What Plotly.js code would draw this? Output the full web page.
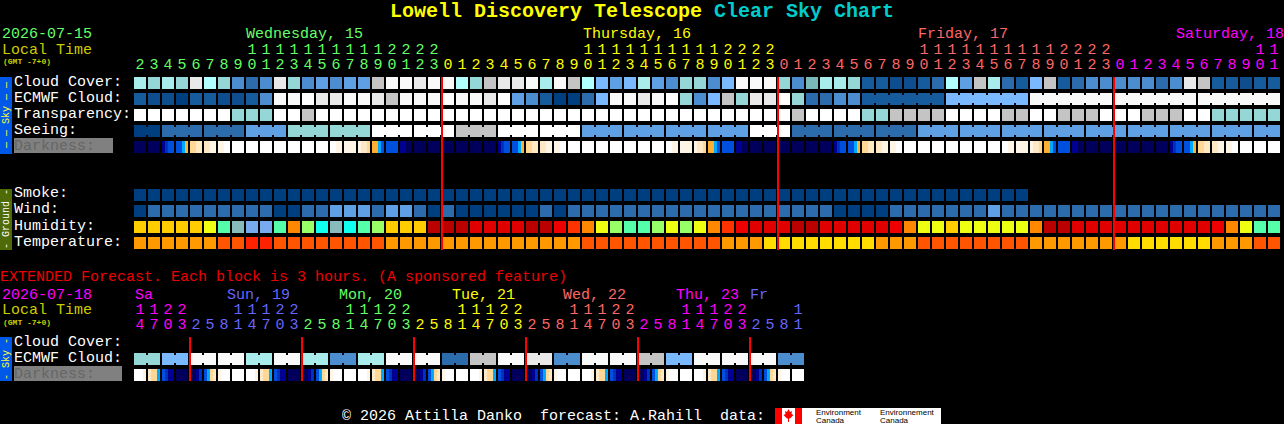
<!DOCTYPE html>
<html>
<head>
<meta charset="utf-8">
<script src="https://cdn.plot.ly/plotly-3.0.1.min.js"></script>
<style>html,body{margin:0;padding:0;background:#000;overflow:hidden}</style>
</head>
<body>
<div id="chart" style="width:1284px;height:424px"></div>
<script>
// ---------- palettes ----------
const skyPalette = ['#003f7f','#0e4e8e','#165c9c','#2c6cac','#4c8dd0','#5f9fe3','#7ab9ff','#7ab9b9','#95d6d6','#a8ecec','#b2ffff','#c4c4c4','#e9e9e9','#f9f9f9','#ffffff'];
const humidityPalette = ['#bb0000','#e00000','#ee0000','#ff3300','#ff8800','#ffcc00','#eeff11','#99ff66','#55ffaa','#11ffee','#88bbbb','#77aaee'];
const tempPalette = ['#ff2200','#ff5500','#ff9900','#ffdd00'];
const darkPalette = ['#00005c','#000090','#0030c0','#0050e0','#00a8ff','#ffb030','#ffd898','#ffe8c4','#fff5e6','#ffffff'];

// ---------- hourly forecast ----------
const hours = [2,3,4,5,6,7,8,9,10,11,12,13,14,15,16,17,18,19,20,21,22,23,
  0,1,2,3,4,5,6,7,8,9,10,11,12,13,14,15,16,17,18,19,20,21,22,23,
  0,1,2,3,4,5,6,7,8,9,10,11,12,13,14,15,16,17,18,19,20,21,22,23,
  0,1,2,3,4,5,6,7,8,9,10,11];
const hourDayColor = ['#66ff66','#ffff00','#ff6666','#ff00ff'];
const hourDaySpans = [22,24,24,12];

const cloudCover = [9,8,9,8,12,10,8,4,3,4,12,8,4,5,4,5,5,11,13,13,12,13,
  13,10,8,11,12,12,13,9,13,11,10,6,5,6,9,5,4,8,8,4,6,13,13,13,
  8,4,7,9,9,8,2,2,1,1,2,3,10,5,11,9,3,2,6,11,2,3,4,4,
  4,4,4,3,4,12,11,2,2,1,2,2];
const ecmwfCloud = [2,1,1,0,2,2,1,1,2,4,13,13,14,12,12,13,13,12,11,13,13,13,
  14,13,13,12,14,5,4,2,0,0,3,6,13,13,12,13,14,8,4,6,11,8,12,12,
  14,8,3,3,4,4,2,2,2,2,2,2,6,6,6,6,6,6,13,13,13,13,13,13,
  13,13,13,13,13,13,13,13,13,13,13,13];
const ecmwfRuns = [[52,57],[58,63],[64,69],[70,75],[76,81]];
const transparency = [14,14,14,14,14,14,14,8,8,8,14,14,11,14,14,14,14,14,14,14,14,14,
  14,14,14,14,14,14,14,14,14,14,14,14,14,14,14,14,14,14,14,14,14,14,14,14,
  14,11,14,14,14,14,8,8,11,11,11,11,14,14,14,14,11,11,14,14,11,11,11,14,
  14,14,11,11,11,14,14,8,8,8,8,8];
const seeing = [0,0,3,3,3,3,3,3,5,5,5,8,8,8,8,8,8,14,14,14,14,14,
  14,11,11,11,14,14,14,14,14,14,5,5,5,5,5,5,5,5,5,5,5,5,14,14,
  14,3,3,3,3,3,3,3,3,3,5,5,5,5,5,5,5,5,5,5,5,5,5,5,
  5,5,5,5,5,5,5,5,5,5,5,5];
const seeingRuns = [[0,1],[2,4],[5,7],[8,10],[11,13],[14,16],[17,19],[20,22],[23,25],[26,28],[29,31],[32,34],[35,37],[38,40],[41,43],[44,46],[47,49],[50,52],[53,55],[56,58],[59,61],[62,64],[65,67],[68,70],[71,73],[74,76],[77,79],[80,81]];
const darkness = ['0000','0000','1233','3345','6677','7788','8899','9999','9999','9999','9999','9999','9999','9999','9988','8888','8776','5543','3333','1100','0000','0000',
  '0000','0000','0000','0000','1233','3345','6677','7788','8899','9999','9999','9999','9999','9999','9999','9999','9988','8888','8776','5543','3333','1100','0000','0000',
  '0000','0000','0000','0000','1233','3345','6677','7788','8899','9999','9999','9999','9999','9999','9999','9999','9988','8888','8776','5543','3333','1100','0000','0000',
  '0000','0000','0000','0000','1233','3345','6677','7788','8899','9999','9999','9999'];
const smoke = [0,0,0,0,0,0,0,0,0,0,0,0,0,0,0,0,0,0,0,0,0,0,
  0,0,0,0,0,0,0,0,0,0,0,0,0,0,0,0,0,0,0,0,0,0,0,0,
  0,0,0,0,0,0,0,0,0,0,0,0,0,0,0,0,0,0,null,null,null,null,null,null,
  null,null,null,null,null,null,null,null,null,null,null,null];
const wind = [0,3,3,3,3,3,3,3,3,3,0,0,3,3,5,5,5,3,5,5,3,0,
  3,0,0,0,0,0,0,3,0,3,3,3,3,3,3,3,3,3,3,3,3,3,3,3,
  3,3,3,3,0,0,0,0,3,3,3,3,3,3,3,5,3,3,3,3,3,3,3,3,
  3,3,3,3,3,3,3,3,3,3,3,3];
const humidity = [5,5,5,5,5,6,8,10,11,11,8,4,7,9,10,9,8,7,5,5,5,0,
  0,0,1,1,1,1,0,0,2,3,4,6,7,8,8,7,6,7,6,4,3,2,1,1,
  1,0,0,1,1,1,1,1,2,4,6,6,5,6,6,6,6,6,4,0,0,1,1,1,
  1,1,1,1,1,1,1,2,4,6,8,8];
const temperature = [2,2,2,2,2,2,1,1,0,0,1,1,1,1,1,1,1,1,2,2,2,2,
  2,2,2,2,2,2,2,2,2,2,1,1,1,1,1,1,1,1,1,1,2,2,2,3,
  3,3,3,3,3,3,3,2,2,2,1,1,1,1,1,1,1,1,2,2,2,2,2,2,
  2,3,3,3,3,3,3,2,2,2,1,1];

// ---------- extended forecast (3 hour blocks) ----------
const extHours = [14,17,20,23, 2,5,8,11,14,17,20,23, 2,5,8,11,14,17,20,23, 2,5,8,11,14,17,20,23, 2,5,8,11,14,17,20,23, 2,5,8,11,14,17,20,23, 2,5,8,11];
const extDayColor = ['#ff00ff','#6666ff','#66ff66','#ffff00','#ff6666','#ff00ff','#6666ff'];
const extDaySpans = [4,8,8,8,8,8,4];
const extEcmwf = [8,8,6,6,13,13,13,13,9,9,13,13,9,9,4,4,9,9,13,13,13,13,3,3,11,11,13,13,12,12,4,4,13,13,13,13,11,11,6,6,13,13,13,13,13,13,4,4];
const extRuns = [[0,1],[2,3],[4,5],[6,7],[8,9],[10,11],[12,13],[14,15],[16,17],[18,19],[20,21],[22,23],[24,25],[26,27],[28,29],[30,31],[32,33],[34,35],[36,37],[38,39],[40,41],[42,43],[44,45],[46,47]];
const extDarkness = ['9998','7664','3211','0000','0012','3467','8999','9999',
  '9998','7664','3211','0000','0012','3467','8999','9999',
  '9998','7664','3211','0000','0012','3467','8999','9999',
  '9998','7664','3211','0000','0012','3467','8999','9999',
  '9998','7664','3211','0000','0012','3467','8999','9999',
  '9998','7664','3211','0000','0012','3467','8999','9999'];

// ---------- labels ----------
const dayLabels = [['Wednesday, 15',245,'#66ff66'],['Thursday, 16',582,'#ffff00'],['Friday, 17',917,'#ff6666'],['Saturday, 18',1175,'#ff00ff']];
const extDayLabels = [['Sa',134,'#ff00ff'],['Sun, 19',226,'#6666ff'],['Mon, 20',338,'#66ff66'],['Tue, 21',451,'#ffff00'],['Wed, 22',562,'#ff6666'],['Thu, 23',675,'#ff00ff'],['Fr',749,'#6666ff']];
const rowLabels = [['Cloud Cover:',82],['ECMWF Cloud:',98],['Transparency:',114],['Seeing:',130],['Smoke:',194],['Wind:',210],['Humidity:',226],['Temperature:',242],['Cloud Cover:',342],['ECMWF Cloud:',358]];
const midnightLines = [442,778,1114];
const extMidnightLines = [190,302,414,526,638,750];

// ---------- pixel <-> axis helpers ----------
const W = 1284, H = 424;
const xOf = p => (p - 140) / 14;
const yOf = p => (p - 83) / 16;
const mono = 'Liberation Mono, DejaVu Sans Mono, monospace';
const palScale = pal => pal.map((c, k) => [k / (pal.length - 1), c]);
const idx = a => a.map((_, i) => i);

const traces = [];
function blockRow(z, yPx, pal) {
  traces.push({type:'heatmap', x:idx(z), y:[yOf(yPx)], z:[z], zmin:0, zmax:pal.length-1,
    colorscale:palScale(pal), showscale:false, xgap:2, ygap:4, hoverinfo:'skip'});
}
function connectors(z, runs, yPx, pal) {
  const c = z.slice(0, -1).map(() => null);
  runs.forEach(([a, b]) => { for (let i = a; i < b; i++) c[i] = z[i]; });
  traces.push({type:'heatmap', x:c.map((_, i) => i + 0.5), y:[yOf(yPx)], z:[c], zmin:0, zmax:pal.length-1,
    colorscale:palScale(pal), showscale:false, xgap:12, ygap:8, hoverinfo:'skip'});
}
function darkRow(cells, yPx) {
  const edges = [], z = [];
  cells.forEach((s, i) => {
    const base = i - 6 / 14;
    s.split('').forEach((d, k) => { edges.push(base + k * 3 / 14); z.push(+d); });
    edges.push(base + 12 / 14); z.push(null);
  });
  edges.push(cells.length - 6 / 14);
  traces.push({type:'heatmap', x:edges, y:[yOf(yPx - 6), yOf(yPx + 6)], z:[z], zmin:0, zmax:darkPalette.length-1,
    colorscale:palScale(darkPalette), showscale:false, hoverinfo:'skip'});
}
function hourText(hrs, spans, cols, tensY, unitsY) {
  const colour = [];
  spans.forEach((n, k) => { for (let j = 0; j < n; j++) colour.push(cols[k]); });
  traces.push({type:'scatter', mode:'text', x:idx(hrs), y:hrs.map(() => yOf(unitsY)),
    text:hrs.map(h => String(h % 10)), textfont:{family:mono, size:15, color:colour},
    textposition:'middle center', cliponaxis:false, hoverinfo:'skip'});
  const ti = idx(hrs).filter(i => hrs[i] >= 10);
  traces.push({type:'scatter', mode:'text', x:ti, y:ti.map(() => yOf(tensY)),
    text:ti.map(i => String(Math.floor(hrs[i] / 10))), textfont:{family:mono, size:15, color:ti.map(i => colour[i])},
    textposition:'middle center', cliponaxis:false, hoverinfo:'skip'});
}

blockRow(cloudCover, 83, skyPalette);
blockRow(ecmwfCloud, 99, skyPalette);
connectors(ecmwfCloud, ecmwfRuns, 99, skyPalette);
blockRow(transparency, 115, skyPalette);
blockRow(seeing, 131, skyPalette);
connectors(seeing, seeingRuns, 131, skyPalette);
darkRow(darkness, 147);
blockRow(smoke, 195, skyPalette);
blockRow(wind, 211, skyPalette);
blockRow(humidity, 227, humidityPalette);
blockRow(temperature, 243, tempPalette);
blockRow(extEcmwf, 359, skyPalette);
connectors(extEcmwf, extRuns, 359, skyPalette);
darkRow(extDarkness, 375);
hourText(hours, hourDaySpans, hourDayColor, 50, 65);
hourText(extHours, extDaySpans, extDayColor, 310, 325);

// ---------- text ----------
const ann = [];
function label(text, x, y, color, size, opts) {
  ann.push(Object.assign({text, x:x / W, y:1 - y / H, xref:'paper', yref:'paper', xanchor:'left', yanchor:'middle',
    showarrow:false, align:'left', borderpad:0, font:{family:mono, size:size || 15, color}}, opts || {}));
}
const NB = '\u00a0';
label('<b>Lowell Discovery Telescope</b>', 389, 12, '#ffff00', 20);
label('<b>Clear Sky Chart</b>', 713, 12, '#00cccc', 20);
label('2026-07-15', 1, 35, '#66ff66');
label('Local Time', 1, 50, '#cccc00');
label('<b>(GMT -7+0)</b>', 2, 61, '#cccc00', 8);
dayLabels.forEach(d => label(d[0], d[1], 35, d[2]));
rowLabels.forEach(r => label(r[0], 13, r[1], '#ffffff'));
label('Darkness:', 13, 146, '#666666');
label('EXTENDED Forecast. Each block is 3 hours. (A sponsored feature)', -1, 277, '#ee0000');
label('2026-07-18', 1, 295, '#ff00ff');
label('Local Time', 1, 310, '#cccc00');
label('<b>(GMT -7+0)</b>', 2, 322, '#cccc00', 8);
extDayLabels.forEach(d => label(d[0], d[1], 295, d[2]));
label('Darkness:', 13, 374, '#666666');
label('\u00a9 2026 Attilla Danko' + NB + NB + 'forecast: A.Rahill' + NB + NB + 'data:', 341, 416, '#ffffff');
const strip = (t, y, c) => label(t, 6, y, c, 10, {textangle:-90, xanchor:'center'});
strip('\u2014 \u2014 Sky \u2014 \u2014', 115, '#ffff33');
strip('- Ground -', 219, '#ffffff');
strip('- Sky -', 359, '#ffff33');
const logoFont = 'Liberation Sans, Arial, sans-serif';
[['Environment',815,412],['Canada',815,420],['Environnement',879,412],['Canada',879,420]].forEach(t =>
  label(t[0], t[1], t[2], '#000000', 8, {font:{family:logoFont, size:8, color:'#000000'}}));

// ---------- rectangles, midnight lines, logo ----------
const px = p => p / W, py = p => 1 - p / H;
const rect = (x0, y0, x1, y1, fill, layer) => ({type:'rect', xref:'paper', yref:'paper', x0:px(x0), x1:px(x1), y0:py(y0), y1:py(y1),
  fillcolor:fill, line:{width:0}, layer:layer || 'below'});
const shapes = [
  rect(0,77,12,154,'#0058e8'), rect(0,189,12,250,'#4f6b08'), rect(0,337,12,381,'#0058e8'),
  rect(14,138,113,153,'#808080'), rect(14,366,122,381,'#808080'),
  rect(775,408,941,424,'#ffffff'), rect(775,408,782,424,'#ff0000'), rect(795,408,802,424,'#ff0000')
];
midnightLines.forEach(x => shapes.push(rect(x-1,77,x+1,250,'#ff0000','above')));
extMidnightLines.forEach(x => shapes.push(rect(x-1,337,x+1,381,'#ff0000','above')));
const leaf = [[788.5,409],[790,412],[792,411],[791.5,414],[793.5,415],[790,418.5],[789,418.5],[789,422],[788,422],[788,418.5],[787,418.5],[783.5,415],[785.5,414],[785,411],[787,412]];
shapes.push({type:'path', xref:'paper', yref:'paper', layer:'above', fillcolor:'#ff0000', line:{width:0},
  path:'M' + leaf.map(p => px(p[0]) + ',' + py(p[1])).join('L') + 'Z'});

const hiddenAxis = {visible:false, fixedrange:true, showgrid:false, zeroline:false};
Plotly.newPlot('chart', traces, {
  width:W, height:H, autosize:false, showlegend:false,
  margin:{l:0, r:0, t:0, b:0, pad:0},
  paper_bgcolor:'#000000', plot_bgcolor:'#000000',
  xaxis:Object.assign({range:[xOf(0), xOf(W)]}, hiddenAxis),
  yaxis:Object.assign({range:[yOf(H), yOf(0)]}, hiddenAxis),
  annotations:ann, shapes:shapes
}, {staticPlot:true, displayModeBar:false});
</script>
</body>
</html>
